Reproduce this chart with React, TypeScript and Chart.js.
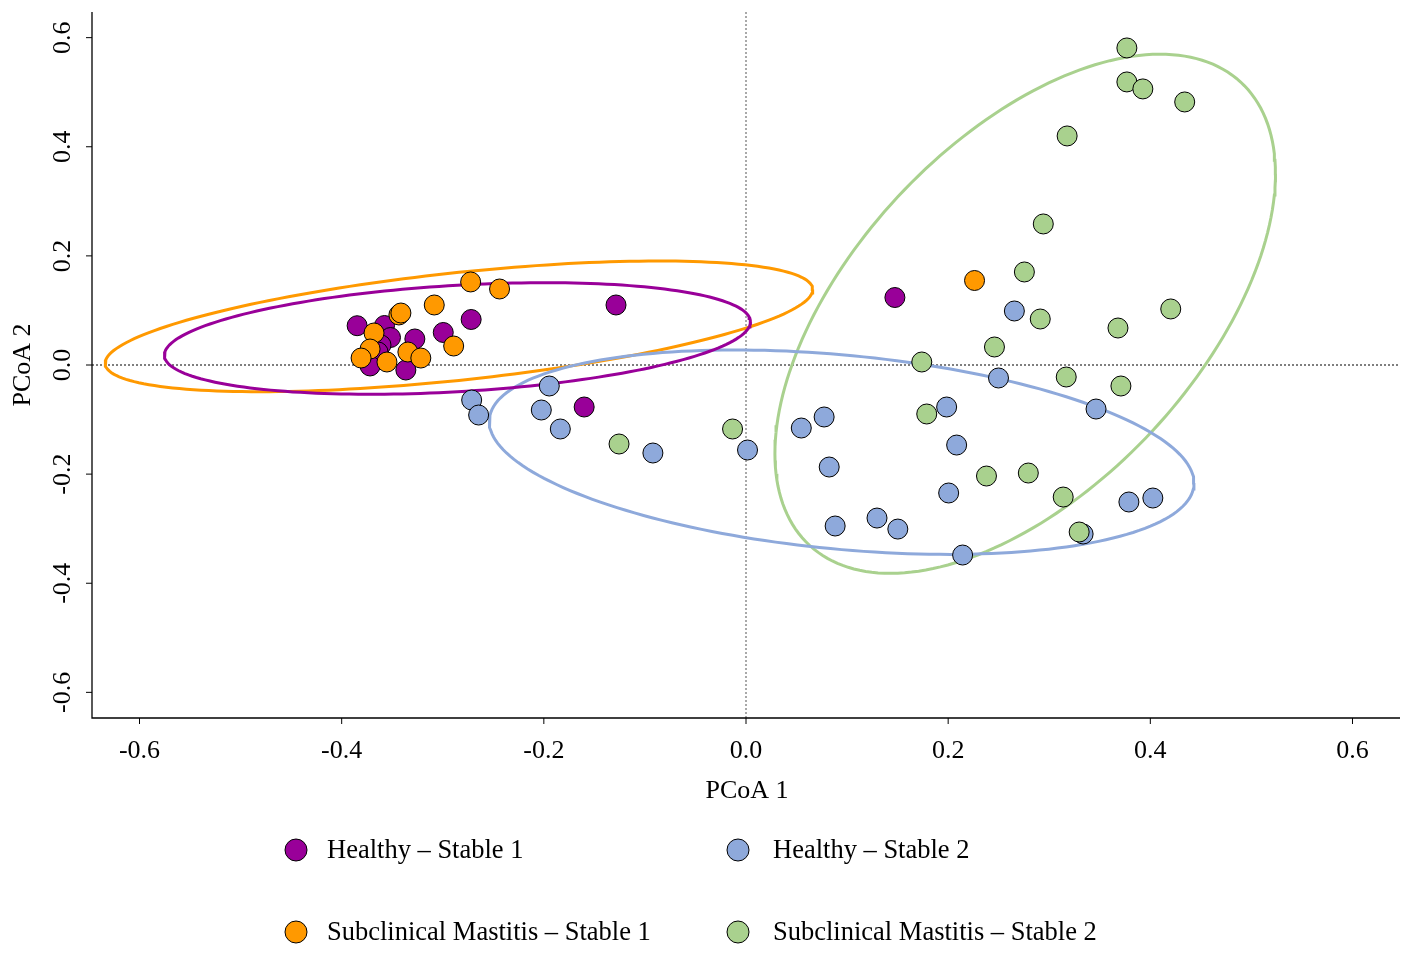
import React, { useEffect, useRef } from 'react';
import { Chart, registerables } from 'chart.js';

Chart.register(...registerables);

// ---------- data ----------
const seriesNames = [
  'Healthy – Stable 1',
  'Healthy – Stable 2',
  'Subclinical Mastitis – Stable 1',
  'Subclinical Mastitis – Stable 2',
];
const seriesColors = ['#990099', '#8EA9DB', '#FF9900', '#A9D18E'];

const healthyS1X = [-0.3847, -0.3576, -0.3517, -0.3611, -0.364, -0.3719, -0.3365, -0.3276, -0.2995, -0.2719, -0.1286, -0.1601, 0.1473];
const healthyS1Y = [0.072, 0.0724, 0.0504, 0.0367, 0.0238, -0.0018, -0.0092, 0.0477, 0.0596, 0.0834, 0.11, -0.077, 0.1237];

const subclinS1X = [-0.3434, -0.3414, -0.368, -0.3719, -0.3808, -0.3552, -0.3345, -0.3217, -0.3084, -0.2892, -0.2724, -0.2438, 0.2261];
const subclinS1Y = [0.0917, 0.0953, 0.0587, 0.0293, 0.0128, 0.0055, 0.0238, 0.0128, 0.11, 0.0348, 0.1522, 0.1393, 0.1549];

const healthyS2X = [-0.2714, -0.2645, -0.1946, -0.2025, -0.1837, -0.0921, 0.0015, 0.0547, 0.0773, 0.0823, 0.0882, 0.1296, 0.1502, 0.1985, 0.2084, 0.2005, 0.2143, 0.2655, 0.2498, 0.3463, 0.3788, 0.4025, 0.3335];
const healthyS2Y = [-0.0642, -0.0917, -0.0385, -0.0825, -0.1173, -0.1613, -0.1558, -0.1155, -0.0953, -0.187, -0.2951, -0.2805, -0.3007, -0.077, -0.1467, -0.2346, -0.3483, 0.099, -0.0238, -0.0807, -0.2511, -0.2438, -0.3098];

const subclinS2X = [0.3768, 0.3768, 0.3926, 0.434, 0.3177, 0.2941, 0.2754, 0.2911, 0.368, 0.4202, 0.2458, 0.1739, 0.3168, 0.3709, 0.1788, 0.2379, 0.2793, 0.3138, 0.3296, -0.1256, -0.0133];
const subclinS2Y = [0.5811, 0.5188, 0.506, 0.4821, 0.4198, 0.2585, 0.1705, 0.0843, 0.0678, 0.1027, 0.033, 0.0055, -0.022, -0.0385, -0.0898, -0.2035, -0.198, -0.242, -0.3061, -0.1448, -0.1173];

// confidence ellipses (order: H-S1, H-S2, SM-S1, SM-S2)
const ellipseCX = [-0.2855, 0.0946, -0.284, 0.2762];
const ellipseCY = [0.0486, -0.1598, 0.0708, 0.0939];
const ellipseXcos = [0.2899, 0.3486, 0.35, 0.2476];
const ellipseYcos = [0.0305, -0.0565, 0.0675, 0.2565];
const ellipseYsin = [0.0976, 0.1786, 0.099, 0.4007];

const tickValues = [-0.6, -0.4, -0.2, 0.0, 0.2, 0.4, 0.6];
const tickLabels = ['-0.6', '-0.4', '-0.2', '0.0', '0.2', '0.4', '0.6'];
const xTitle = 'PCoA 1';
const yTitle = 'PCoA 2';

const AXIS_MIN = -0.647;
const AXIS_MAX = 0.647;
const FONT = "'Liberation Serif', 'Times New Roman', serif";

function zip(xs: number[], ys: number[]) {
  return xs.map((x, i) => ({ x, y: ys[i] }));
}

function ellipsePoints(i: number) {
  const pts: { x: number; y: number }[] = [];
  const n = 200;
  for (let k = 0; k <= n; k++) {
    const t = (2 * Math.PI * k) / n;
    pts.push({
      x: ellipseCX[i] + ellipseXcos[i] * Math.cos(t),
      y: ellipseCY[i] + ellipseYcos[i] * Math.cos(t) + ellipseYsin[i] * Math.sin(t),
    });
  }
  return pts;
}

const decorPlugin = {
  id: 'decor',
  beforeDatasetsDraw(chart: any) {
    const { ctx, chartArea } = chart;
    const xs = chart.scales.x;
    const ys = chart.scales.y;
    ctx.save();
    ctx.strokeStyle = '#000';
    ctx.lineWidth = 1;
    ctx.setLineDash([2, 2]);
    const x0 = xs.getPixelForValue(0);
    const y0 = ys.getPixelForValue(0);
    ctx.beginPath();
    ctx.moveTo(chartArea.left, y0);
    ctx.lineTo(chartArea.right, y0);
    ctx.stroke();
    ctx.strokeStyle = '#555';
    ctx.beginPath();
    ctx.moveTo(x0, chartArea.top);
    ctx.lineTo(x0, chartArea.bottom);
    ctx.stroke();
    ctx.setLineDash([]);
    ctx.restore();
  },
  afterDraw(chart: any) {
    const { ctx, chartArea } = chart;
    const xs = chart.scales.x;
    const ys = chart.scales.y;
    ctx.save();
    ctx.strokeStyle = '#000';
    ctx.lineWidth = 1.3;
    ctx.beginPath();
    ctx.moveTo(chartArea.left, chartArea.top);
    ctx.lineTo(chartArea.left, chartArea.bottom);
    ctx.lineTo(chartArea.right, chartArea.bottom);
    ctx.stroke();
    ctx.lineWidth = 1;
    ctx.fillStyle = '#000';
    ctx.font = `26px ${FONT}`;
    tickValues.forEach((v, i) => {
      const px = xs.getPixelForValue(v);
      ctx.beginPath();
      ctx.moveTo(px, chartArea.bottom);
      ctx.lineTo(px, chartArea.bottom + 6);
      ctx.stroke();
      ctx.textAlign = 'center';
      ctx.textBaseline = 'middle';
      ctx.fillText(tickLabels[i], px, chartArea.bottom + 33);

      const py = ys.getPixelForValue(v);
      ctx.beginPath();
      ctx.moveTo(chartArea.left, py);
      ctx.lineTo(chartArea.left - 6, py);
      ctx.stroke();
      ctx.save();
      ctx.translate(chartArea.left - 29, py);
      ctx.rotate(-Math.PI / 2);
      ctx.textAlign = 'center';
      ctx.textBaseline = 'middle';
      ctx.fillText(tickLabels[i], 0, 0);
      ctx.restore();
    });
    ctx.font = `26px ${FONT}`;
    ctx.textAlign = 'center';
    ctx.textBaseline = 'middle';
    ctx.fillText(xTitle, (chartArea.left + chartArea.right) / 2 + 1, chartArea.bottom + 73);
    ctx.save();
    ctx.translate(23, (chartArea.top + chartArea.bottom) / 2);
    ctx.rotate(-Math.PI / 2);
    ctx.fillText(yTitle, 0, 0);
    ctx.restore();
    const legendPos = [
      { cx: 296, ty: 850, tx: 327 },
      { cx: 738, ty: 850, tx: 773 },
      { cx: 296, ty: 932, tx: 327 },
      { cx: 738, ty: 932, tx: 773 },
    ];
    legendPos.forEach((p, i) => {
      ctx.beginPath();
      ctx.arc(p.cx, p.ty, 11, 0, Math.PI * 2);
      ctx.fillStyle = seriesColors[i];
      ctx.fill();
      ctx.strokeStyle = '#000';
      ctx.lineWidth = 1;
      ctx.stroke();
      ctx.fillStyle = '#000';
      ctx.font = `26.5px ${FONT}`;
      ctx.textAlign = 'left';
      ctx.textBaseline = 'middle';
      ctx.fillText(seriesNames[i], p.tx, p.ty + 1);
    });
    ctx.restore();
  },
};

export default function App() {
  const canvasRef = useRef<HTMLCanvasElement | null>(null);

  useEffect(() => {
    if (!canvasRef.current) return;
    const pointSets = [
      zip(healthyS1X, healthyS1Y),
      zip(healthyS2X, healthyS2Y),
      zip(subclinS1X, subclinS1Y),
      zip(subclinS2X, subclinS2Y),
    ];
    const pointOrder = [4, 2, 3, 1];
    const datasets: any[] = [];
    seriesNames.forEach((name, i) => {
      datasets.push({
        label: name,
        data: pointSets[i],
        backgroundColor: seriesColors[i],
        borderColor: '#000',
        borderWidth: 1,
        pointRadius: 10,
        pointHoverRadius: 10,
        showLine: false,
        order: pointOrder[i],
      });
    });
    seriesNames.forEach((name, i) => {
      datasets.push({
        label: name + ' ellipse',
        data: ellipsePoints(i),
        borderColor: seriesColors[i],
        borderWidth: 3,
        pointRadius: 0,
        showLine: true,
        fill: false,
        tension: 0,
        order: 10,
      });
    });

    const chart = new Chart(canvasRef.current, {
      type: 'scatter',
      data: { datasets },
      options: {
        animation: false,
        responsive: false,
        devicePixelRatio: 1,
        layout: { padding: { left: 92, right: 5, top: 12, bottom: 239 } },
        scales: {
          x: { type: 'linear', min: AXIS_MIN, max: AXIS_MAX, display: false },
          y: { type: 'linear', min: AXIS_MIN, max: AXIS_MAX, display: false },
        },
        plugins: {
          legend: { display: false },
          tooltip: { enabled: false },
        },
        events: [],
      },
      plugins: [decorPlugin],
    } as any);
    return () => chart.destroy();
  }, []);

  return (
    <div style={{ position: 'fixed', left: 0, top: 0, width: 1411, height: 957, background: '#fff' }}>
      <canvas ref={canvasRef} width={1411} height={957} />
    </div>
  );
}
